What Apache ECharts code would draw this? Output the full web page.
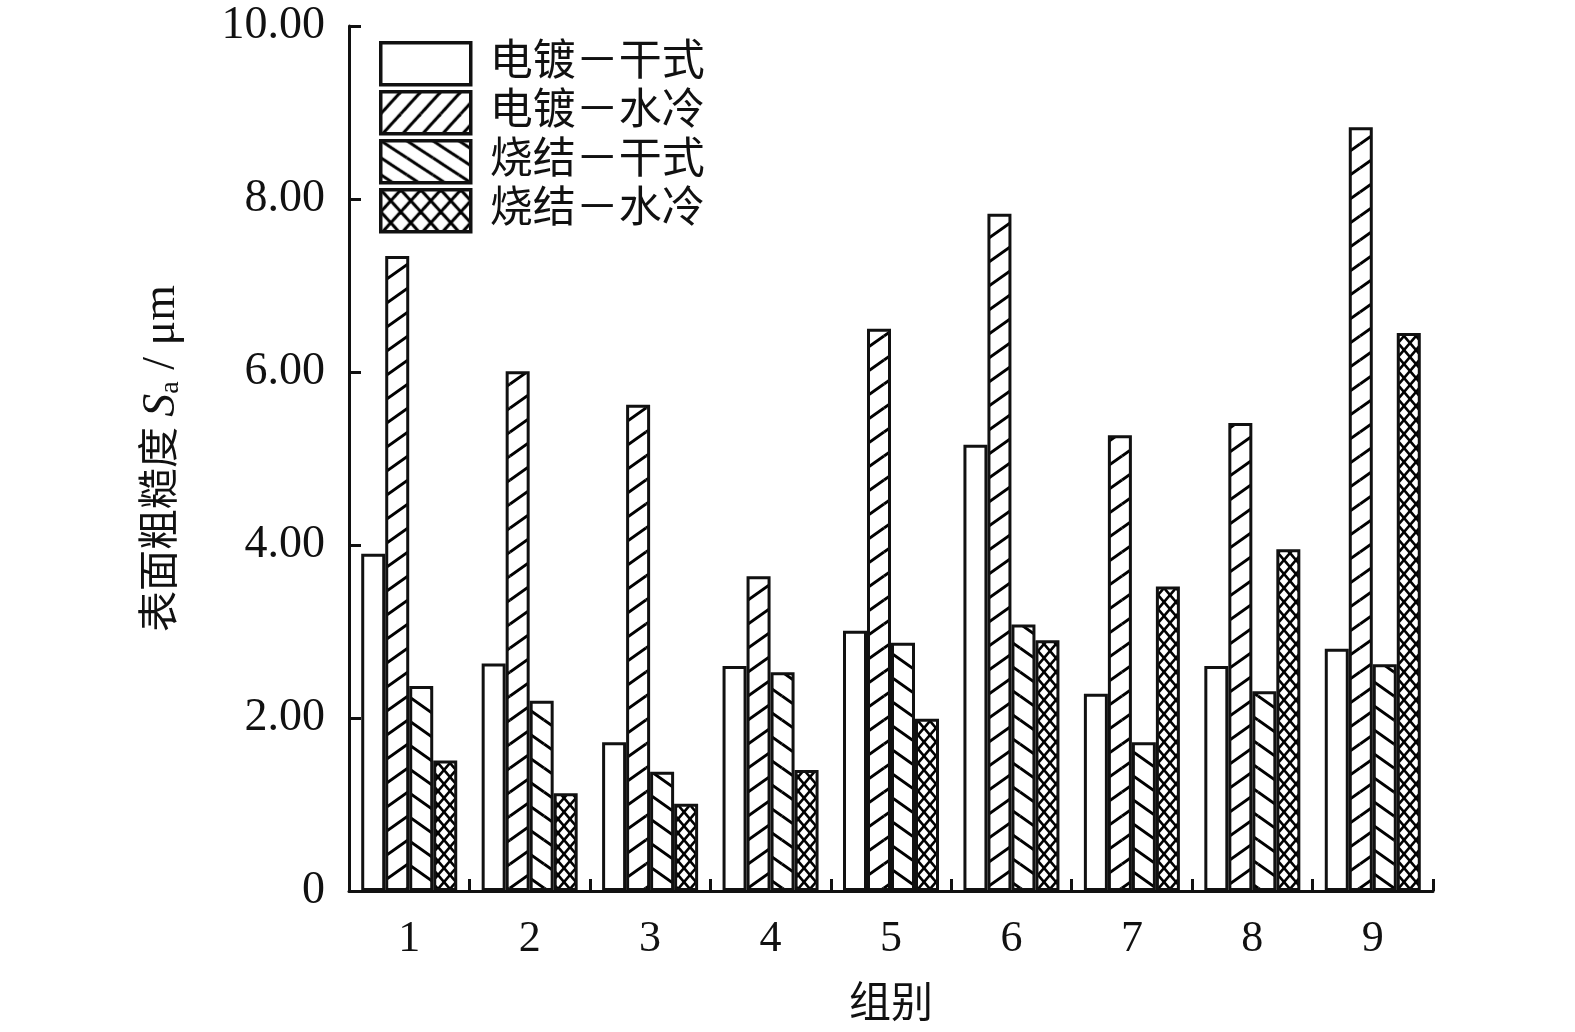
<!DOCTYPE html>
<html>
<head>
<meta charset="utf-8">
<script src="https://cdn.jsdelivr.net/npm/echarts@6/dist/echarts.min.js"></script>
<style>
html,body{margin:0;padding:0;background:#fff;}
#chart{width:1575px;height:1032px;}
</style>
</head>
<body>
<div id="chart"></div>
<script>
const categories = ['1', '2', '3', '4', '5', '6', '7', '8', '9'];
const seriesNames = ['电镀－干式', '电镀－水冷', '烧结－干式', '烧结－水冷'];
const platingDry = [3.90, 2.63, 1.72, 2.60, 3.01, 5.16, 2.28, 2.60, 2.80];
const platingWater = [7.34, 6.01, 5.62, 3.64, 6.50, 7.83, 5.27, 5.41, 8.83];
const sinterDry = [2.37, 2.20, 1.38, 2.53, 2.87, 3.08, 1.72, 2.31, 2.62];
const sinterWater = [1.51, 1.13, 1.01, 1.40, 1.99, 2.90, 3.52, 3.95, 6.45];
const yMin = 0, yMax = 10, yInterval = 2;

function makePattern(w, h, lines, lw) {
  const c = document.createElement('canvas');
  c.width = w; c.height = h;
  const ctx = c.getContext('2d');
  ctx.fillStyle = '#fff';
  ctx.fillRect(0, 0, w, h);
  ctx.strokeStyle = '#000';
  ctx.lineWidth = lw;
  for (const dx of [-w, 0, w]) {
    for (const dy of [-h, 0, h]) {
      for (const l of lines) {
        ctx.beginPath();
        ctx.moveTo(l[0] + dx, l[1] + dy);
        ctx.lineTo(l[2] + dx, l[3] + dy);
        ctx.stroke();
      }
    }
  }
  return {image: c, repeat: 'repeat'};
}
// bar patterns
const pSlash = makePattern(34, 24, [[0, 24, 34, 0]], 3);
const pBack = makePattern(34, 24, [[0, 0, 34, 24]], 3);
const pCross = makePattern(12, 14, [[0, 0, 12, 14], [0, 14, 12, 0]], 2.6);
// legend patterns
const lSlash = makePattern(20, 22, [[0, 22, 20, 0]], 3);
const lBack = makePattern(26, 17, [[0, 0, 26, 17]], 3);
const lCross = makePattern(20, 22, [[0, 0, 20, 22], [0, 22, 20, 0]], 3);

const fills = ['#fff', pSlash, pBack, pCross];
const legendFills = ['#fff', lSlash, lBack, lCross];
const dataSets = [platingDry, platingWater, sinterDry, sinterWater];

const FONT = "'Liberation Serif','Noto Sans CJK SC',serif";

const chart = echarts.init(document.getElementById('chart'));
chart.setOption({
  animation: false,
  backgroundColor: '#fff',
  grid: {left: 349, right: 142, top: 26, bottom: 141, containLabel: false, outerBoundsMode: 'none'},
  legend: {
    orient: 'vertical',
    left: 379,
    top: 41,
    padding: 0,
    itemWidth: 90,
    itemHeight: 42,
    itemGap: 3.5,
    icon: 'rect',
    textStyle: {fontFamily: FONT, fontSize: 43, color: '#111', padding: [0, 0, 0, 14], lineHeight: 42},
    data: seriesNames.map((n, i) => ({
      name: n,
      itemStyle: {color: legendFills[i], borderColor: '#111', borderWidth: 3.5}
    }))
  },
  xAxis: {
    type: 'category',
    data: categories,
    name: '组别',
    nameLocation: 'middle',
    nameGap: 94,
    nameTextStyle: {fontFamily: FONT, fontSize: 42, color: '#111'},
    axisLine: {lineStyle: {color: '#111', width: 3}},
    axisTick: {show: true, inside: true, length: 12, lineStyle: {color: '#111', width: 3}},
    axisLabel: {fontFamily: FONT, fontSize: 44, color: '#111', margin: 26},
    splitLine: {show: false}
  },
  yAxis: {
    type: 'value',
    min: yMin,
    max: yMax,
    interval: yInterval,
    name: '表面粗糙度 {i|S}{sub|a}{t| / μm}',
    nameLocation: 'middle',
    nameRotate: 90,
    nameGap: 164,
    nameTextStyle: {
      fontFamily: FONT, fontSize: 41, color: '#111',
      rich: {
        i: {fontFamily: FONT, fontSize: 46, fontStyle: 'italic', color: '#111'},
        sub: {fontFamily: FONT, fontSize: 28, color: '#111', verticalAlign: 'bottom', padding: [14, 0, 0, 0]},
        t: {fontFamily: FONT, fontSize: 46, color: '#111'}
      }
    },
    axisLine: {show: true, lineStyle: {color: '#111', width: 3}},
    axisTick: {show: true, inside: true, length: 12, lineStyle: {color: '#111', width: 3}},
    axisLabel: {
      fontFamily: FONT, fontSize: 46, color: '#111', margin: 24,
      formatter: v => (v === 0 ? '0' : v.toFixed(2))
    },
    splitLine: {show: false}
  },
  series: seriesNames.map((n, i) => ({
    name: n,
    type: 'bar',
    data: dataSets[i],
    barWidth: 24,
    barGap: '0%',
    itemStyle: {color: fills[i], borderColor: '#111', borderWidth: 3}
  }))
});
</script>
</body>
</html>
